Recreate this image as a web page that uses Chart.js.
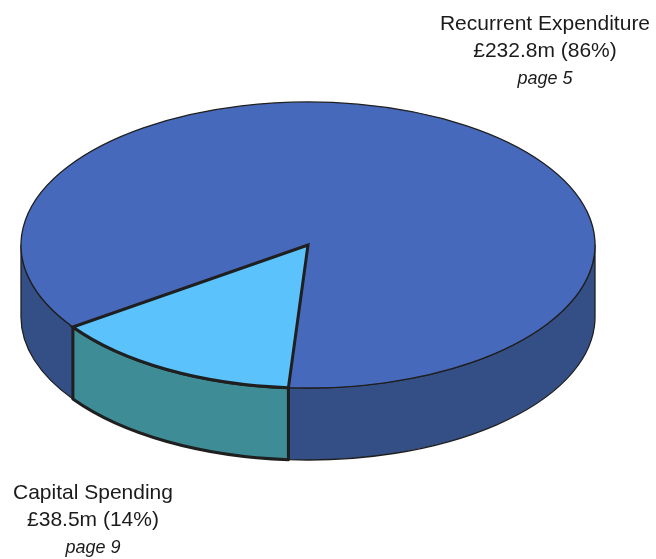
<!DOCTYPE html>
<html>
<head>
<meta charset="utf-8">
<title>Spending split</title>
<script src="https://cdn.jsdelivr.net/npm/chart.js@4.4.1/dist/chart.umd.min.js"></script>
<style>
    html, body { margin: 0; padding: 0; background: #fff; }
    .wrap { position: relative; width: 656px; height: 559px; overflow: hidden; }
    #pie-chart { position: absolute; left: 0; top: 0; }
    .pie-label {
        position: absolute;
        transform: translateX(-50%);
        white-space: nowrap;
        text-align: center;
        font-family: 'Liberation Sans', Arial, sans-serif;
        font-size: 21px;
        line-height: 27px;
        color: #1b1b1b;
    }
    .pie-label i { font-size: 18px; }
</style>
</head>
<body>
<div class="wrap">
    <canvas id="pie-chart" width="656" height="559"></canvas>
    <div class="pie-label" id="label-0" style="left:545px; top:9px;"></div>
    <div class="pie-label" id="label-1" style="left:93px; top:478px;"></div>
</div>
<script>
const categories = ['Recurrent Expenditure', 'Capital Spending'];
const amounts = [232.8, 38.5];   // £m
const pageRefs = ['page 5', 'page 9'];

const topColors = ['#4769bc', '#5cc2fb'];
const sideColors = ['#344f86', '#3e8c96'];
const edgeWidths = [1.3, 3];
const EDGE_COLOR = '#1f1f1f';
const SIDE_DEPTH = 72;

function formatShare(value) {
    const total = amounts.reduce((s, v) => s + v, 0);
    return Math.round(value / total * 100);
}

function renderLabels() {
    categories.forEach((name, i) => {
        const el = document.getElementById(`label-${i}`);
        if (!el) return;
        el.innerHTML = `${name}<br>£${amounts[i].toFixed(1)}m (${formatShare(amounts[i])}%)<br><i>${pageRefs[i]}</i>`;
    });
}

// parts of an arc's outer rim that face the viewer (lower half of the ellipse)
function frontSpans(start, end) {
    const spans = [];
    const k0 = Math.floor(start / (2 * Math.PI)) - 1;
    for (let k = k0; k <= k0 + 3; k++) {
        const a = Math.max(start, 2 * Math.PI * k);
        const b = Math.min(end, 2 * Math.PI * k + Math.PI);
        if (b > a) spans.push([a, b]);
    }
    return spans;
}

// squashes the pie into a tilted disc and adds the rim underneath
const tiltedPie = {
    id: 'tiltedPie',
    beforeDatasetsDraw(chart) {
        const ctx = chart.ctx;
        const arcs = chart.getDatasetMeta(0).data;
        if (!arcs.length) return;
        const rx = chart.chartArea.width / 2;

        arcs.forEach((arc, i) => {
            const ry = arc.outerRadius;
            frontSpans(arc.startAngle, arc.endAngle).forEach(([a, b]) => {
                ctx.beginPath();
                ctx.ellipse(arc.x, arc.y, rx, ry, 0, a, b, false);
                ctx.ellipse(arc.x, arc.y + SIDE_DEPTH, rx, ry, 0, b, a, true);
                ctx.closePath();
                ctx.fillStyle = sideColors[i];
                ctx.fill();
                ctx.lineWidth = edgeWidths[i];
                ctx.strokeStyle = EDGE_COLOR;
                ctx.lineJoin = 'round';
                ctx.stroke();
            });
        });

        const first = arcs[0];
        const sx = rx / first.outerRadius;
        ctx.save();
        ctx.translate(first.x, 0);
        ctx.scale(sx, 1);
        ctx.translate(-first.x, 0);
    },
    afterDatasetsDraw(chart) {
        const ctx = chart.ctx;
        const arcs = chart.getDatasetMeta(0).data;
        if (!arcs.length) return;
        ctx.restore();
        const rx = chart.chartArea.width / 2;

        arcs.forEach((arc, i) => {
            ctx.beginPath();
            ctx.moveTo(arc.x, arc.y);
            ctx.ellipse(arc.x, arc.y, rx, arc.outerRadius, 0, arc.startAngle, arc.endAngle, false);
            ctx.closePath();
            ctx.lineWidth = edgeWidths[i];
            ctx.strokeStyle = EDGE_COLOR;
            ctx.lineJoin = 'miter';
            ctx.stroke();
        });
    }
};

function renderPie() {
    const canvas = document.getElementById('pie-chart');
    if (!canvas) return;
    new Chart(canvas.getContext('2d'), {
        type: 'pie',
        data: {
            labels: categories,
            datasets: [{
                data: amounts,
                backgroundColor: topColors,
                borderWidth: 0,
                hoverOffset: 0,
                clip: false
            }]
        },
        options: {
            responsive: false,
            devicePixelRatio: 1,
            animation: false,
            rotation: 235,
            layout: { padding: { top: 102, left: 21, right: 61, bottom: 171 } },
            plugins: {
                legend: { display: false },
                tooltip: { enabled: false }
            }
        },
        plugins: [tiltedPie]
    });
}

renderLabels();
renderPie();
</script>
</body>
</html>
